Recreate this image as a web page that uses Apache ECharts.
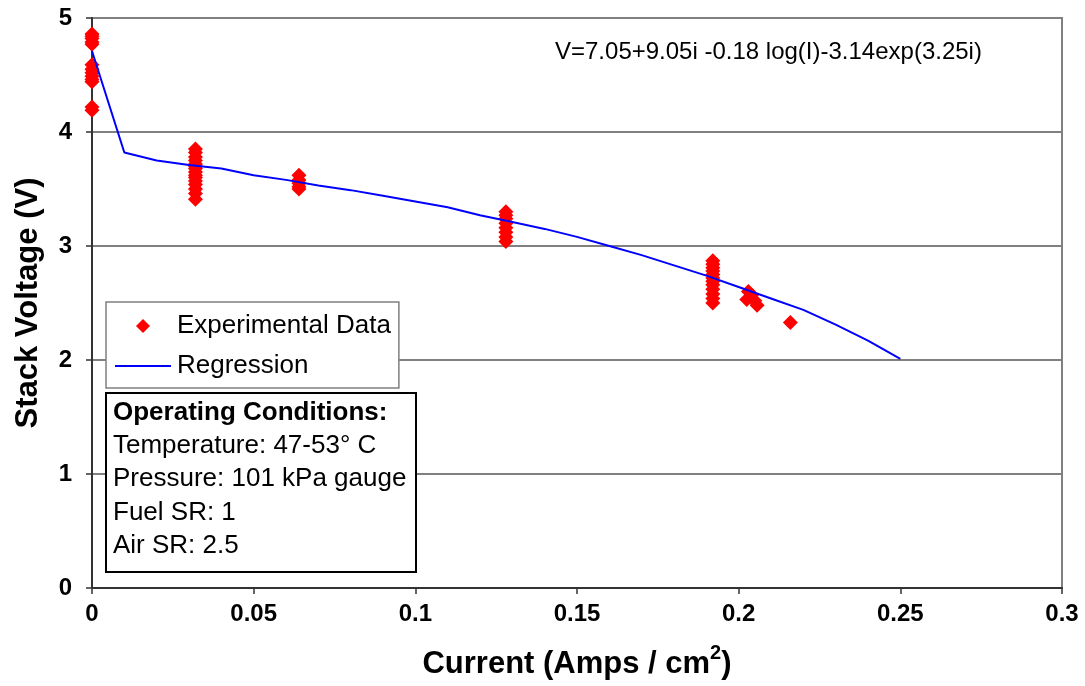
<!DOCTYPE html>
<html>
<head>
<meta charset="utf-8">
<script src="https://cdn.jsdelivr.net/npm/echarts@6/dist/echarts.min.js"></script>
<style>html,body{margin:0;padding:0;background:#fff;}#c{width:1085px;height:686px;}</style>
</head>
<body>
<div id="c"></div>
<script>
// Experimental data: current (A/cm2) and stack voltage (V)
const expCurrent = [
  0,0,0,0,0,0,0,0,0,0,0,0,0,
  0.032,0.032,0.032,0.032,0.032,0.032,0.032,0.032,0.032,0.032,0.032,0.032,0.032,0.032,0.032,
  0.064,0.064,0.064,0.064,0.064,
  0.128,0.128,0.128,0.128,0.128,0.128,0.128,0.128,
  0.192,0.192,0.192,0.192,0.192,0.192,0.192,0.192,0.192,0.192,0.192,0.192,
  0.203,0.204,0.2025,0.205,0.2057,
  0.216
];
const expVoltage = [
  4.86,4.84,4.82,4.79,4.77,4.59,4.55,4.52,4.49,4.46,4.44,4.22,4.19,
  3.85,3.82,3.78,3.75,3.72,3.70,3.68,3.65,3.62,3.60,3.57,3.54,3.50,3.46,3.41,
  3.62,3.58,3.55,3.52,3.50,
  3.30,3.27,3.24,3.20,3.16,3.12,3.08,3.04,
  2.87,2.84,2.81,2.78,2.75,2.72,2.69,2.66,2.62,2.58,2.54,2.50,
  2.60,2.57,2.53,2.52,2.48,
  2.33
];
// Regression curve
const regCurrent = [0,0.01,0.02,0.03,0.04,0.05,0.06,0.07,0.08,0.09,0.10,0.11,0.12,0.13,0.14,0.15,0.16,0.17,0.18,0.19,0.20,0.21,0.22,0.23,0.24,0.25];
const regVoltage = [4.71,3.82,3.75,3.71,3.68,3.62,3.58,3.53,3.49,3.44,3.39,3.34,3.27,3.21,3.15,3.08,3.00,2.92,2.83,2.74,2.64,2.54,2.44,2.31,2.17,2.01];

const xTicks = [0,0.05,0.1,0.15,0.2,0.25,0.3];
const yTicks = [0,1,2,3,4,5];
const seriesNames = ['Experimental Data','Regression'];
const equationText = 'V=7.05+9.05i -0.18 log(I)-3.14exp(3.25i)';
const condTitle = 'Operating Conditions:';
const condLines = ['Temperature: 47-53° C','Pressure: 101 kPa gauge','Fuel SR: 1','Air SR: 2.5'];

const FONT = 'Liberation Sans, Arial, sans-serif';
// legend icons: 56x14 boxes (degenerate moves fix the bounding box)
const diamondIcon = 'path://M0,0L0,0M56,14L56,14M21,7L28,0L35,7L28,14Z';
const lineIcon = 'path://M0,0L0,0M56,14L56,14M0,6L56,6L56,8L0,8Z';

const chart = echarts.init(document.getElementById('c'), null, {renderer:'canvas'});
chart.setOption({
  animation:false,
  backgroundColor:'#fff',
  textStyle:{fontFamily:FONT},
  grid:{left:92,right:23,top:18,bottom:98,show:true,borderColor:'#808080',borderWidth:2,
        backgroundColor:'transparent',containLabel:false,outerBoundsMode:'none'},
  title:[
    {text:equationText,left:555,top:40,padding:0,
     textStyle:{fontFamily:FONT,fontSize:24,fontWeight:'normal',color:'#000'}},
    {text:condTitle,subtext:condLines.join('\n'),left:106,top:393,
     padding:[3,10,9,7],itemGap:0,borderColor:'#000',borderWidth:2,backgroundColor:'#fff',
     textStyle:{fontFamily:FONT,fontSize:26,fontWeight:'bold',color:'#000',lineHeight:33},
     subtextStyle:{fontFamily:FONT,fontSize:26,color:'#000',lineHeight:33.5}}
  ],
  legend:{
    orient:'vertical',left:106,top:302,
    padding:[10,8,8,9],itemGap:12,itemWidth:56,itemHeight:14,
    borderColor:'#808080',borderWidth:1.5,backgroundColor:'#fff',
    textStyle:{fontFamily:FONT,fontSize:26,color:'#000',lineHeight:28,padding:[0,0,0,1]},
    data:[{name:seriesNames[0],icon:diamondIcon,itemStyle:{color:'#ff0000',borderWidth:0}},
          {name:seriesNames[1],icon:lineIcon,itemStyle:{color:'#0000ff',borderWidth:0}}]
  },
  xAxis:{
    type:'value',min:0,max:0.3,interval:0.05,
    name:'Current (Amps / cm{sup|2})',nameLocation:'middle',nameGap:55,
    nameTextStyle:{fontFamily:FONT,fontSize:31,fontWeight:'bold',color:'#000',lineHeight:42,
      rich:{sup:{fontFamily:FONT,fontSize:20,fontWeight:'bold',color:'#000',verticalAlign:'top',lineHeight:16}}},
    axisLine:{show:true,onZero:false,lineStyle:{color:'#333',width:2}},
    axisTick:{show:true,inside:false,length:6,lineStyle:{color:'#333',width:1.5}},
    axisLabel:{margin:14,fontFamily:FONT,fontSize:24,fontWeight:'bold',color:'#000',
      formatter:v=>String(+v.toFixed(2))},
    splitLine:{show:false}
  },
  yAxis:{
    type:'value',min:0,max:5,interval:1,
    name:'Stack Voltage (V)',nameLocation:'middle',nameGap:48,nameRotate:90,
    nameTextStyle:{fontFamily:FONT,fontSize:31,fontWeight:'bold',color:'#000'},
    axisLine:{show:true,lineStyle:{color:'#333',width:2}},
    axisTick:{show:true,inside:false,length:6,lineStyle:{color:'#333',width:1.5}},
    axisLabel:{margin:20,fontFamily:FONT,fontSize:24,fontWeight:'bold',color:'#000'},
    splitLine:{show:true,lineStyle:{color:'#808080',width:2}}
  },
  series:[
    {name:seriesNames[0],type:'scatter',symbol:'diamond',symbolSize:15,
     itemStyle:{color:'#ff0000',opacity:1},z:3,
     data:expCurrent.map((x,i)=>[x,expVoltage[i]])},
    {name:seriesNames[1],type:'line',showSymbol:false,symbol:'none',
     lineStyle:{color:'#0000ff',width:2},itemStyle:{color:'#0000ff'},z:4,
     data:regCurrent.map((x,i)=>[x,regVoltage[i]])}
  ]
});
</script>
</body>
</html>
